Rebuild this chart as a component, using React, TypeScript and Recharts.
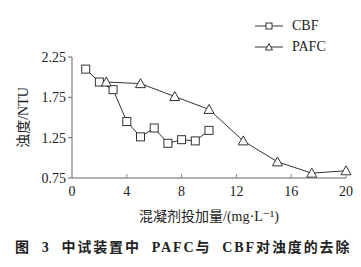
import React from "react";
import { LineChart, Line, XAxis, YAxis, Legend } from "recharts";

// 投加量 (mg/L) 与 浊度 (NTU)
const cbfDose = [1, 2, 3, 4, 5, 6, 7, 8, 9, 10];
const cbfTurbidity = [2.1, 1.94, 1.845, 1.45, 1.26, 1.37, 1.18, 1.225, 1.21, 1.34];
const pafcDose = [2.5, 5, 7.5, 10, 12.5, 15, 17.5, 20];
const pafcTurbidity = [1.94, 1.92, 1.76, 1.6, 1.21, 0.95, 0.81, 0.84];
const xTicks = [0, 4, 8, 12, 16, 20];
const yTicks = [0.75, 1.25, 1.75, 2.25];

const cbfData = cbfDose.map((x, i) => ({ x, cbf: cbfTurbidity[i] }));
const pafcData = pafcDose.map((x, i) => ({ x, pafc: pafcTurbidity[i] }));

const FONT = '"Liberation Serif", "DejaVu Serif", "Noto Sans CJK SC", serif';
const INK = "#333";

const SquareDot = (props: any) => {
  const { cx, cy, index } = props;
  if (cx == null || cy == null) return null;
  return (
    <rect key={index} x={cx - 4} y={cy - 4} width={8} height={8} fill="#fff" stroke={INK} strokeWidth={1} />
  );
};

const TriangleDot = (props: any) => {
  const { cx, cy, index } = props;
  if (cx == null || cy == null) return null;
  return (
    <polygon
      key={index}
      points={`${cx},${cy - 5} ${cx - 5},${cy + 4} ${cx + 5},${cy + 4}`}
      fill="#fff"
      stroke={INK}
      strokeWidth={1}
    />
  );
};

// x 轴刻度朝内
const XTick = (props: any) => {
  const { x, y, payload } = props;
  return (
    <g>
      {payload.value !== 0 && <line x1={x} x2={x} y1={y} y2={y - 4} stroke="#888" />}
      <text x={x} y={y + 18} textAnchor="middle" style={{ fontFamily: FONT, fontSize: 14 }} fill="#222">
        {payload.value}
      </text>
    </g>
  );
};

const LegendBox = () => {
  const rows = [
    { name: "CBF", shape: "square" },
    { name: "PAFC", shape: "triangle" },
  ];
  return (
    <div style={{ fontFamily: FONT, fontSize: 14, color: "#222" }}>
      {rows.map((r) => (
        <div key={r.name} style={{ display: "flex", alignItems: "center", height: 21 }}>
          <svg width={30} height={12} style={{ marginRight: 7 }}>
            <line x1={0} x2={28} y1={6} y2={6} stroke={INK} />
            {r.shape === "square" ? (
              <rect x={11} y={3} width={6} height={6} fill="#fff" stroke={INK} />
            ) : (
              <polygon points="14,2.5 10.5,9 17.5,9" fill="#fff" stroke={INK} />
            )}
          </svg>
          <span>{r.name}</span>
        </div>
      ))}
    </div>
  );
};

export default function App() {
  return (
    <div
      style={{
        position: "absolute",
        left: 0,
        top: 0,
        width: 361,
        height: 267,
        background: "#fff",
        fontFamily: FONT,
      }}
    >
      <LineChart
        width={361}
        height={267}
        margin={{ top: 15, right: 15, left: 0, bottom: 45 }}
        style={{ fontFamily: FONT }}
      >
        <XAxis
          type="number"
          dataKey="x"
          domain={[0, 20]}
          ticks={xTicks}
          allowDuplicatedCategory={false}
          height={44}
          tickSize={0}
          tickMargin={0}
          tick={<XTick />}
          axisLine={{ stroke: "#666" }}
          label={{
            value: "混凝剂投加量/(mg·L⁻¹)",
            position: "insideBottom",
            offset: 1,
            style: { fontFamily: FONT, fontSize: 14, fill: "#222" },
          }}
        />
        <YAxis
          type="number"
          domain={[0.75, 2.25]}
          ticks={yTicks}
          width={72}
          tickSize={4}
          tickMargin={2}
          tickFormatter={(v: number) => v.toFixed(2)}
          tick={{ style: { fontFamily: FONT, fontSize: 14 }, fill: "#222" }}
          tickLine={{ stroke: "#666" }}
          axisLine={{ stroke: "#666" }}
          label={{
            value: "浊度/NTU",
            angle: -90,
            position: "insideLeft",
            offset: 23,
            style: { fontFamily: FONT, fontSize: 14, fill: "#222", textAnchor: "middle" },
          }}
        />
        <Legend
          verticalAlign="top"
          align="right"
          content={<LegendBox />}
          wrapperStyle={{ position: "absolute", left: 255, top: 15, width: "auto" }}
        />
        <Line
          data={cbfData}
          dataKey="cbf"
          name="CBF"
          stroke={INK}
          strokeWidth={1}
          dot={<SquareDot />}
          isAnimationActive={false}
        />
        <Line
          data={pafcData}
          dataKey="pafc"
          name="PAFC"
          stroke={INK}
          strokeWidth={1}
          dot={<TriangleDot />}
          isAnimationActive={false}
        />
      </LineChart>
      <div
        style={{
          position: "absolute",
          left: 15,
          top: 239,
          fontFamily: FONT,
          fontSize: 14,
          fontWeight: "bold",
          whiteSpace: "pre",
          letterSpacing: 1.9,
          color: "#222",
          lineHeight: "18px",
        }}
      >
        {"图  3  中试装置中  PAFC与  CBF对浊度的去除"}
      </div>
    </div>
  );
}
